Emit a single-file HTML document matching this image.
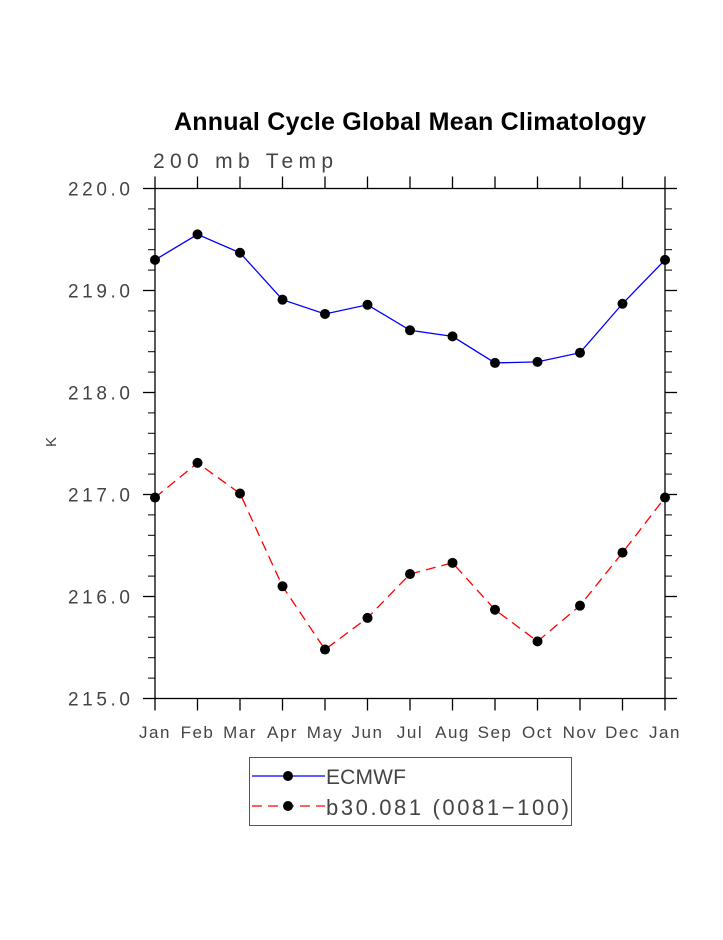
<!DOCTYPE html>
<html><head><meta charset="utf-8"><style>
body{margin:0;background:#fff;}
svg text{font-family:"Liberation Sans",sans-serif;}
</style></head><body>
<svg width="723" height="935" viewBox="0 0 723 935" xmlns="http://www.w3.org/2000/svg">
<rect width="723" height="935" fill="#fff"/>
<text x="410" y="130" text-anchor="middle" font-size="25" font-weight="bold" fill="#000" textLength="472">Annual Cycle Global Mean Climatology</text>
<text x="153" y="168" font-size="21" fill="#444" textLength="180">200 mb Temp</text>
<text transform="translate(56,442) rotate(-90)" text-anchor="middle" font-size="15" fill="#444">K</text>
<g id="axes"></g>
<g id="series"></g>
<g>
<rect x="249.5" y="757.5" width="322" height="68" fill="none" stroke="#555" stroke-width="1"/>
<line x1="252" y1="776" x2="325" y2="776" stroke="#0000ff" stroke-width="1.3"/>
<circle cx="288" cy="776" r="5" fill="#000"/>
<text x="326" y="784" font-size="21" fill="#444" textLength="80">ECMWF</text>
<line x1="252" y1="806" x2="325" y2="806" stroke="#ff0000" stroke-width="1.3" stroke-dasharray="10,6"/>
<circle cx="288" cy="806" r="5" fill="#000"/>
<text x="326" y="815" font-size="22" fill="#444" textLength="243">b30.081 (0081−100)</text>
</g>
</svg>
<script>
const months = ["Jan","Feb","Mar","Apr","May","Jun","Jul","Aug","Sep","Oct","Nov","Dec","Jan"];
const ecmwf = [219.30,219.55,219.37,218.91,218.77,218.86,218.61,218.55,218.29,218.30,218.39,218.87,219.30];
const b30 = [216.97,217.31,217.01,216.10,215.48,215.79,216.22,216.33,215.87,215.56,215.91,216.43,216.97];
const yTicks = [215,216,217,218,219,220];
const yTickLabels = ["215.0","216.0","217.0","218.0","219.0","220.0"];

const NS="http://www.w3.org/2000/svg";
const L=155,R=665,T=188.5,B=698.5,yMin=215,yMax=220;
const xs=i=>L+(R-L)*i/(months.length-1);
const ys=v=>B-(B-T)*(v-yMin)/(yMax-yMin);
function mk(tag,attrs,parent){const e=document.createElementNS(NS,tag);for(const k in attrs)e.setAttribute(k,attrs[k]);parent.appendChild(e);return e;}
const ax=document.getElementById('axes');
const frame=mk('rect',{x:L,y:T,width:R-L,height:B-T,fill:'none',stroke:'#000','stroke-width':1.3},ax);


months.forEach((m,i)=>{
  const x=xs(i);
  const t1=mk('line',{x1:x,y1:B,x2:x,y2:B+12,stroke:'#000','stroke-width':1.3},ax);
  
  
  const t2=mk('line',{x1:x,y1:T,x2:x,y2:T-12,stroke:'#000','stroke-width':1.3},ax);
  
  
  const tx=mk('text',{x:x,y:738,'text-anchor':'middle','font-size':17,fill:'#444','letter-spacing':1.5},ax);
  tx.textContent=m;
  
  
});
yTicks.forEach((v,i)=>{
  const y=ys(v);
  const a=mk('line',{x1:L-12,y1:y,x2:L,y2:y,stroke:'#000','stroke-width':1.3},ax);
  
  
  const b=mk('line',{x1:R,y1:y,x2:R+12,y2:y,stroke:'#000','stroke-width':1.3},ax);
  
  
  const tx=mk('text',{x:68,y:y+7,'font-size':19,fill:'#444',textLength:62},ax);
  tx.textContent=yTickLabels[i];
  
  
  if(i<yTicks.length-1){for(let k=1;k<5;k++){const yy=ys(v+k*0.2);
    const m1=mk('line',{x1:L-7,y1:yy,x2:L,y2:yy,stroke:'#000','stroke-width':1},ax);
    
    
    const m2=mk('line',{x1:R,y1:yy,x2:R+7,y2:yy,stroke:'#000','stroke-width':1},ax);
    
    
  }}
});
const sg=document.getElementById('series');
function drawSeries(vals,color,dash,name){
  const p=mk('polyline',{points:vals.map((v,i)=>xs(i)+','+ys(v)).join(' '),fill:'none',stroke:color,'stroke-width':1.3,'stroke-dasharray':dash},sg);
  
  
  vals.forEach((v,i)=>{
    const c=mk('circle',{cx:xs(i),cy:ys(v),r:5,fill:'#000'},sg);
    
    
  });
}
drawSeries(ecmwf,'#0000ff','none','ecmwf');
drawSeries(b30,'#ff0000','10,6','b30');
</script>
</body></html>
